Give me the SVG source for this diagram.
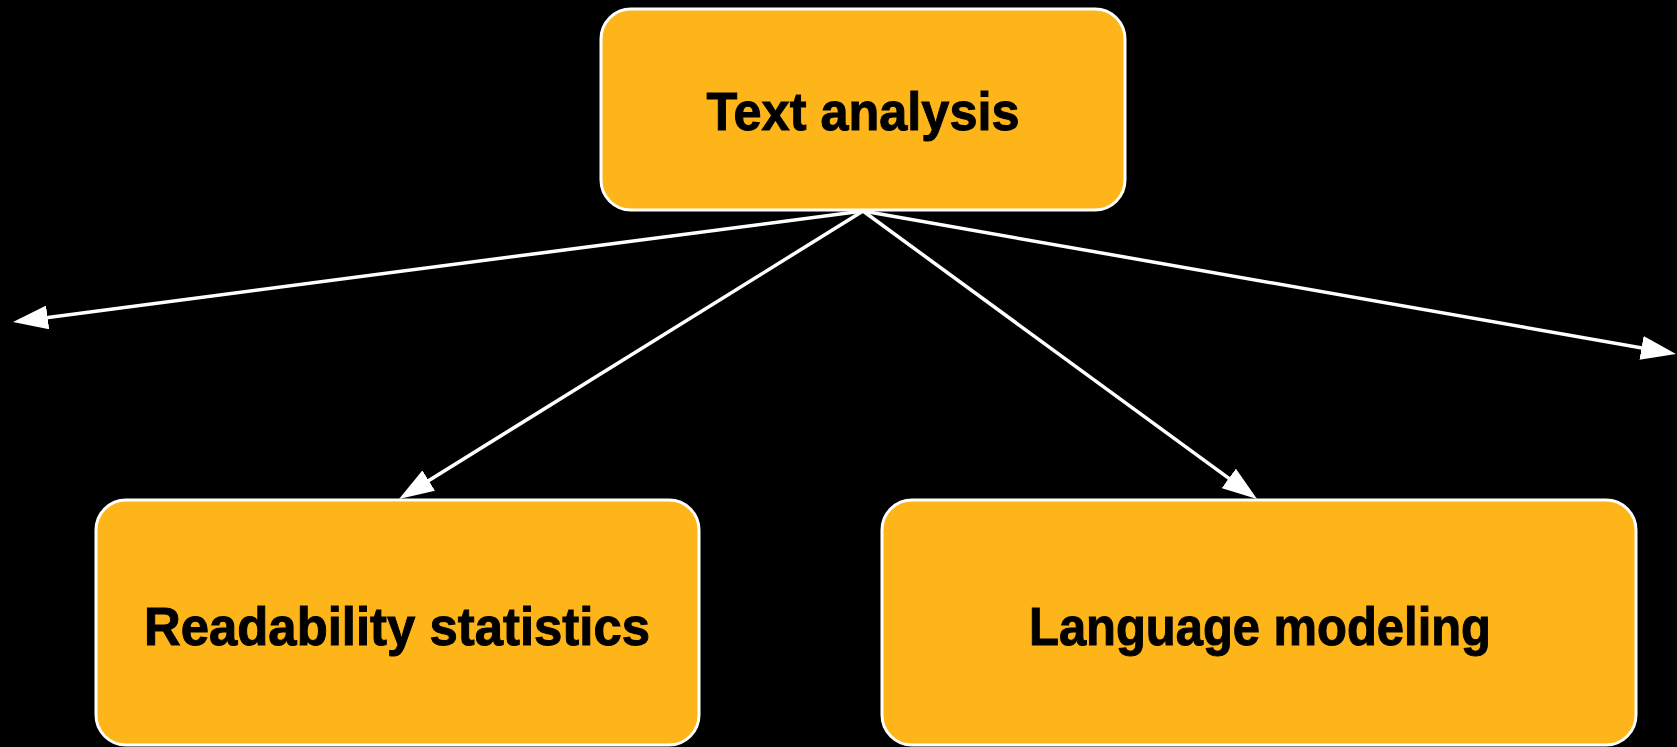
<svg xmlns="http://www.w3.org/2000/svg" width="1677" height="747" viewBox="0 0 1677 747">
  <defs>
    <style>
      .box { fill: #FDB519; stroke: #FFFFFF; stroke-width: 3; }
      .label { font-family: "Liberation Sans", Arial, sans-serif; font-weight: bold; font-size: 54px; fill: #000000; stroke: #000000; stroke-width: 1; text-anchor: middle; }
      .edge { stroke: #FFFFFF; stroke-width: 3.5; fill: none; marker-end: url(#arrow); }
    </style>
    <!-- tip sits 20px past the line end so the stroke stays hidden inside the head -->
    <marker id="arrow" markerUnits="userSpaceOnUse" markerWidth="36" markerHeight="24" refX="15" refY="12" orient="auto">
      <path d="M0,0 L35,12 L0,24 Z" fill="#FFFFFF"/>
    </marker>
  </defs>
  <rect width="1677" height="747" fill="#000000"/>

  <!-- connectors -->
  <g id="connectors">
    <line class="edge" x1="863" y1="211" x2="32.8" y2="319.4"/>
    <line class="edge" x1="863" y1="211" x2="1656.3" y2="350.5"/>
    <line class="edge" x1="863" y1="211" x2="416" y2="488.5"/>
    <line class="edge" x1="863" y1="211" x2="1240.9" y2="487.2"/>
  </g>

  <!-- nodes -->
  <g id="text-analysis">
    <rect class="box" x="601" y="9" width="524" height="201" rx="30" ry="30"/>
    <text class="label" x="863" y="130" textLength="313" lengthAdjust="spacingAndGlyphs">Text analysis</text>
  </g>
  <g id="readability-statistics">
    <rect class="box" x="96" y="500" width="603" height="245" rx="30" ry="30"/>
    <text class="label" x="397" y="645" textLength="506" lengthAdjust="spacingAndGlyphs">Readability statistics</text>
  </g>
  <g id="language-modeling">
    <rect class="box" x="882" y="500" width="754" height="245" rx="30" ry="30"/>
    <text class="label" x="1260" y="645" textLength="462" lengthAdjust="spacingAndGlyphs">Language modeling</text>
  </g>
</svg>
